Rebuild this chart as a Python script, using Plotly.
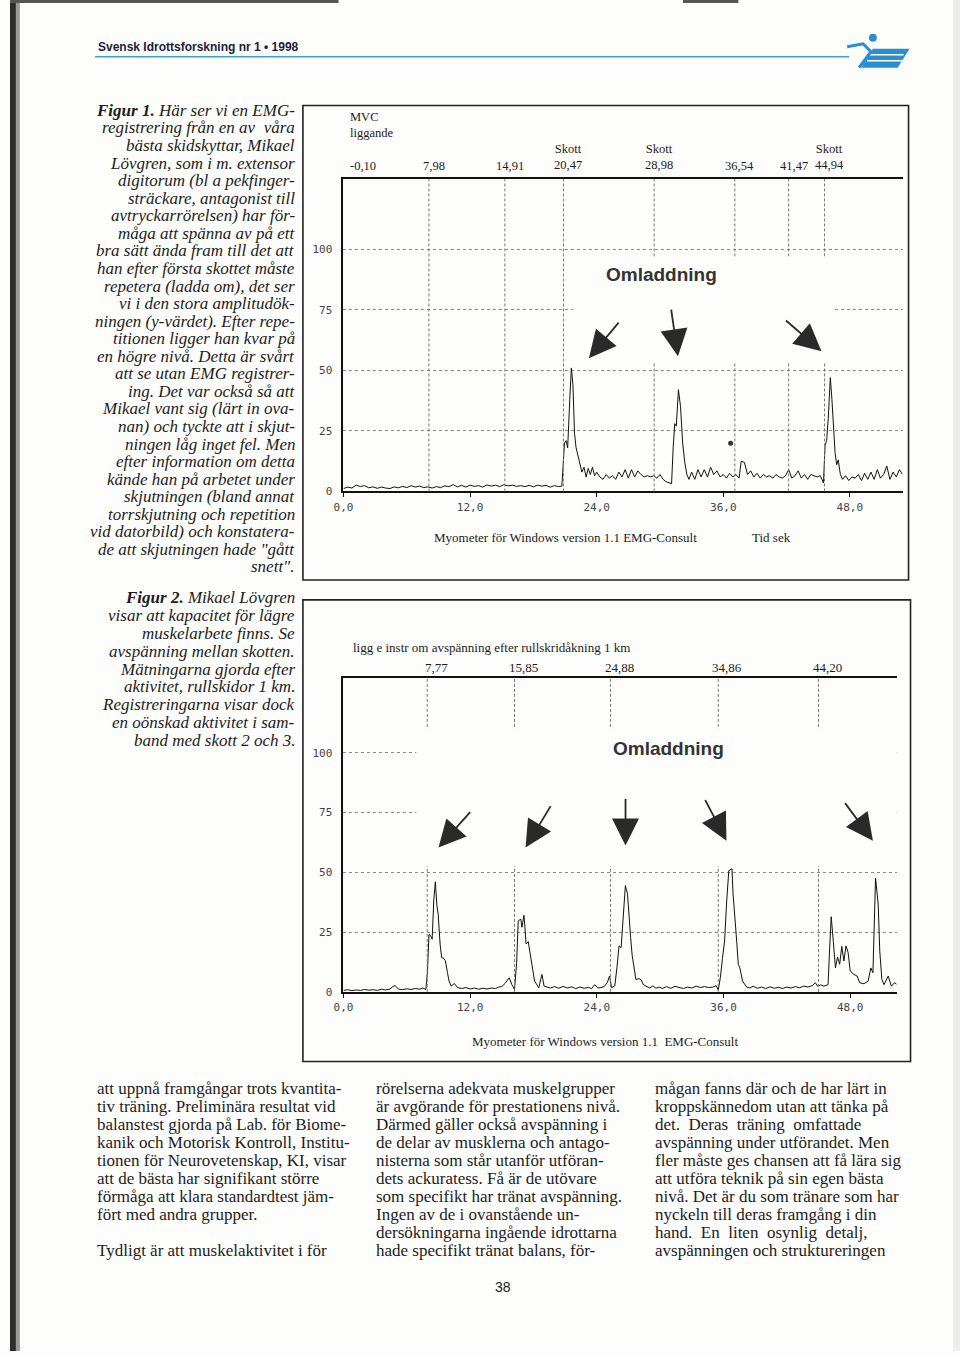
import plotly.graph_objects as go

W, H = 960, 1358

# ---------------- data ----------------
# Figure 1 EMG trace (time s, % MVC)
fig1_time = [0.0, 0.4, 0.8, 1.2, 1.6, 2.0, 2.4, 2.8, 3.2, 3.6, 4.0, 4.4, 4.8, 5.2, 5.6, 6.0, 6.4, 6.8,
             7.2, 7.6, 8.0, 8.4, 8.8, 9.2, 9.6, 10.0, 10.4, 10.8, 11.2, 11.6, 12.0, 12.4, 12.8, 13.2,
             13.6, 14.0, 14.4, 14.8, 15.2, 15.6, 16.0, 16.4, 16.8, 17.2, 17.6, 18.0, 18.4, 18.8, 19.2,
             19.6, 20.0, 20.4, 20.7,
             20.85, 20.95, 21.1, 21.25, 21.45, 21.6, 21.75, 21.9, 22.05, 22.2, 22.4, 22.6, 22.8, 23.0,
             23.2, 23.4, 23.6, 23.8, 24.0, 24.3, 24.6, 24.9, 25.2, 25.5, 25.8, 26.1, 26.4, 26.7, 27.0,
             27.3, 27.6, 27.9, 28.2, 28.5, 28.8, 29.1, 29.4, 29.7, 30.0, 30.3, 30.6, 30.9, 31.1,
             31.25, 31.4, 31.55, 31.75, 31.95, 32.15, 32.35, 32.55, 32.75, 33.0, 33.3, 33.6, 33.9,
             34.2, 34.5, 34.8, 35.1, 35.4, 35.7, 36.0, 36.3, 36.6, 36.9, 37.2, 37.5, 37.7, 38.0, 38.3,
             38.6, 38.9, 39.2, 39.5, 39.8, 40.1, 40.4, 40.7, 41.0, 41.3, 41.6, 41.9, 42.2, 42.5, 42.8,
             43.1, 43.4, 43.7, 44.0, 44.3, 44.6, 44.9, 45.2, 45.5,
             45.65, 45.8, 45.95, 46.15, 46.3, 46.45, 46.6, 46.75, 46.9, 47.1, 47.3, 47.6, 47.9, 48.2,
             48.5, 48.8, 49.1, 49.4, 49.7, 50.0, 50.3, 50.6, 50.9, 51.2, 51.5, 51.8, 52.1, 52.4, 52.7,
             53.0]
fig1_emg = [1.2, 1.8, 1.4, 2.6, 2.0, 2.4, 1.5, 1.9, 1.3, 1.8, 1.4, 1.2, 1.9, 1.5, 2.1, 1.6, 2.4, 1.8,
            2.2, 1.6, 1.9, 1.4, 2.0, 1.6, 2.3, 2.0, 2.8, 1.9, 2.5, 1.8, 2.6, 2.1, 2.4, 1.8,
            2.7, 2.2, 2.6, 2.0, 2.8, 2.3, 2.6, 2.1, 2.4, 2.0, 2.5, 1.9, 2.6, 2.2, 2.5,
            1.8, 2.4, 2.0, 2.2,
            14, 20, 21, 18, 38, 51, 44, 24, 18, 15, 12, 8, 10, 6,
            9.5, 7, 10, 6.5, 8, 6, 5, 7, 5.5, 6.5, 5, 8, 6, 9, 5.5,
            9, 6, 8.5, 7, 6, 6.5, 6, 6.5, 5.5, 7, 5, 4, 3.5, 3.2,
            18, 28, 27, 42, 35, 20, 12, 7, 5, 8, 5, 9, 6,
            9, 6, 10, 7, 8.5, 6, 7, 5.5, 7.5, 6, 7, 5.5, 12.5, 12, 7,
            8.5, 6, 7.5, 5.5, 7, 6, 6.5, 5.5, 7, 6, 5.5, 6.5, 9, 5.5, 6.5,
            8.5, 5.5, 7, 5, 7, 6.5, 6, 6.5, 3.5,
            19, 21, 30, 47, 38, 24, 16, 11, 13, 7, 5, 6.5, 4.5, 6,
            5.5, 7, 4.5, 7.5, 5, 8, 5, 9, 5.5, 7, 10.5, 5, 8, 6, 9,
            7]
fig1_marker_times = [8.1, 15.3, 20.85, 29.45, 37.1, 42.2, 45.6]
fig1_marker_labels = ["7,98", "14,91", "20,47", "28,98", "36,54", "41,47", "44,94"]
fig1_marker_notes = ["", "", "Skott", "Skott", "", "", "Skott"]
fig1_start_label = "-0,10"
fig1_spot = ([36.7], [19.9])

# Figure 2 EMG trace
fig2_time = [0.0, 0.4, 0.8, 1.2, 1.6, 2.0, 2.4, 2.8, 3.2, 3.6, 4.0, 4.4, 4.7, 4.9, 5.2, 5.6, 6.0, 6.4,
             6.8, 7.2, 7.5, 7.8,
             7.95, 8.1, 8.25, 8.4, 8.55, 8.7, 8.85, 8.97, 9.15, 9.3, 9.5, 9.65, 9.85, 10.0, 10.2,
             10.5, 10.8, 11.2, 11.6, 12.0, 12.4, 12.8, 13.2, 13.6, 14.0, 14.4, 14.7, 15.0, 15.3,
             15.7, 15.95, 16.2,
             16.4, 16.55, 16.8, 16.9, 17.1, 17.3, 17.5, 17.7, 17.9, 18.1, 18.5, 18.8, 19.0, 19.3,
             19.6, 20.0, 20.4, 20.8, 21.2, 21.6, 22.0, 22.4, 22.8, 23.2, 23.5, 23.8, 24.1, 24.4,
             24.7, 25.0, 25.2, 25.4, 25.7,
             25.9, 26.1, 26.3, 26.5, 26.7, 26.9, 27.05, 27.2, 27.35, 27.5, 27.7, 28.0, 28.2, 28.4,
             28.7, 29.0, 29.3, 29.6, 29.9, 30.2, 30.6, 31.0, 31.4, 31.8, 32.2, 32.6, 33.0, 33.4,
             33.8, 34.2, 34.6, 35.0, 35.3, 35.5,
             35.7, 35.9, 36.1, 36.3, 36.5, 36.8, 36.9, 37.2, 37.4, 37.55, 37.8, 38.2, 38.5, 38.8,
             39.2, 39.6, 40.0, 40.4, 40.8, 41.2, 41.6, 42.0, 42.4, 42.8, 43.2, 43.6, 44.0, 44.4,
             44.7, 44.9, 45.2, 45.5, 45.9,
             46.05, 46.2, 46.4, 46.6, 46.8, 47.0, 47.2, 47.4, 47.6, 47.8, 48.0, 48.35, 48.65, 48.9,
             49.3, 49.7, 49.95, 50.15, 50.4, 50.65, 50.8, 51.0, 51.2, 51.6, 51.9, 52.2, 52.4]
fig2_emg = [0.6, 0.9, 0.5, 0.8, 0.6, 1.0, 0.7, 0.9, 0.6, 1.1, 0.8, 1.2, 2.3, 2.6, 1.2, 0.9, 1.3, 1.0,
            1.4, 1.1, 1.6, 1.0,
            8, 24, 23.5, 22, 38, 46, 36, 32.5, 20, 14.3, 14, 13, 8, 4.5, 2.4,
            3.5, 1.8, 1.4, 1.8, 1.2, 1.6, 1.1, 1.5, 1.2, 1.6, 1.4, 2.0, 2.2, 3.5,
            5.9, 3.0, 1.0,
            12, 29.7, 30.4, 27, 32, 20, 21, 15.7, 9, 4.5, 1.7, 7.3, 2.4, 2.0,
            1.6, 2.2, 1.5, 2.3, 1.6, 2.1, 1.4, 2.0, 1.5, 1.9, 1.3, 3.0, 1.6, 1.8,
            2.2, 4.0, 6.6, 1.7, 2.5,
            10, 19.2, 18.5, 32, 44.4, 41, 30, 22.7, 15, 10, 5.2, 5.5, 5, 3,
            2.4, 1.6, 2.5, 1.5, 2.0, 1.4, 2.2, 1.5, 2.3, 1.8, 1.4, 2.0, 1.6, 2.4,
            1.8, 2.2, 1.8, 2.0, 2.6, 0.8,
            6, 14, 21.3, 38, 50.7, 51.4, 41, 24, 11.5, 10, 4.5, 2.0, 1.6, 2.4,
            1.5, 2.0, 1.4, 2.1, 1.5, 1.9, 1.4, 2.0, 1.6, 2.2, 1.7, 2.4, 2.0, 2.6,
            3.8, 2.4, 2.9, 2.4, 3.0,
            18, 31.4, 21, 10, 14.6, 11.5, 19, 12.9, 19.2, 16.4, 8.7, 7.3, 6.6, 3.8,
            3.4, 4.5, 10, 8, 47.6, 36.7, 17, 5.2, 3.0, 6.6, 2.4, 3.8, 3.2]
fig2_marker_times = [7.93, 16.2, 25.3, 35.5, 45.0]
fig2_marker_labels = ["7,77", "15,85", "24,88", "34,86", "44,20"]

x_tick_vals = [0, 12, 24, 36, 48]
x_tick_text = ["0,0", "12,0", "24,0", "36,0", "48,0"]
y_tick_vals = [0, 25, 50, 75, 100]
y_tick_text = ["0", "25", "50", "75", "100"]

header_text = "Svensk Idrottsforskning nr 1 • 1998"
page_number = "38"

caption1 = [
    "<b>Figur 1.</b> Här ser vi en EMG-",
    "registrering från en av  våra",
    "bästa skidskyttar, Mikael",
    "Lövgren, som i m. extensor",
    "digitorum (bl a pekfinger-",
    "sträckare, antagonist till",
    "avtryckarrörelsen) har för-",
    "måga att spänna av på ett",
    "bra sätt ända fram till det att",
    "han efter första skottet måste",
    "repetera (ladda om), det ser",
    "vi i den stora amplitudök-",
    "ningen (y-värdet). Efter repe-",
    "titionen ligger han kvar på",
    "en högre nivå. Detta är svårt",
    "att se utan EMG registrer-",
    "ing. Det var också så att",
    "Mikael vant sig (lärt in ova-",
    "nan) och tyckte att i skjut-",
    "ningen låg inget fel. Men",
    "efter information om detta",
    "kände han på arbetet under",
    "skjutningen (bland annat",
    "torrskjutning och repetition",
    "vid datorbild) och konstatera-",
    "de att skjutningen hade \"gått",
    "snett\".",
]
caption2 = [
    "<b>Figur 2.</b> Mikael Lövgren",
    "visar att kapacitet för lägre",
    "muskelarbete finns. Se",
    "avspänning mellan skotten.",
    "Mätningarna gjorda efter",
    "aktivitet, rullskidor 1 km.",
    "Registreringarna visar dock",
    "en oönskad aktivitet i sam-",
    "band med skott 2 och 3.",
]
body_col1 = [
    "att uppnå framgångar trots kvantita-",
    "tiv träning. Preliminära resultat vid",
    "balanstest gjorda på Lab. för Biome-",
    "kanik och Motorisk Kontroll, Institu-",
    "tionen för Neurovetenskap, KI, visar",
    "att de bästa har signifikant större",
    "förmåga att klara standardtest jäm-",
    "fört med andra grupper.",
    "",
    "Tydligt är att muskelaktivitet i för",
]
body_col2 = [
    "rörelserna adekvata muskelgrupper",
    "är avgörande för prestationens nivå.",
    "Därmed gäller också avspänning i",
    "de delar av musklerna och antago-",
    "nisterna som står utanför utföran-",
    "dets ackuratess. Få är de utövare",
    "som specifikt har tränat avspänning.",
    "Ingen av de i ovanstående un-",
    "dersökningarna ingående idrottarna",
    "hade specifikt tränat balans, för-",
]
body_col3 = [
    "mågan fanns där och de har lärt in",
    "kroppskännedom utan att tänka på",
    "det.  Deras  träning  omfattade",
    "avspänning under utförandet. Men",
    "fler måste ges chansen att få lära sig",
    "att utföra teknik på sin egen bästa",
    "nivå. Det är du som tränare som har",
    "nyckeln till deras framgång i din",
    "hand.  En  liten  osynlig  detalj,",
    "avspänningen och struktureringen",
]

# ---------------- helpers ----------------
def px(x):
    return x / W


def py(y):
    return 1 - y / H


SERIF = "Liberation Serif, Times New Roman, serif"
MONO = "DejaVu Sans Mono, monospace"
SANS = "Liberation Sans, Arial, sans-serif"
INK = "#1c1c1c"
PAPER = "#fdfdfb"


def text_at(text, x, y, size, family=SERIF, xanchor="center", color=INK, **kw):
    d = dict(text=text, x=x, y=y, xref=kw.pop("xref", "paper"), yref=kw.pop("yref", "paper"),
             xanchor=xanchor, yanchor="middle", showarrow=False,
             font=dict(family=family, size=size, color=color))
    d.update(kw)
    return d


fig = go.Figure()

fig.add_trace(go.Scatter(x=fig1_time, y=fig1_emg, mode="lines",
                         line=dict(color="#111111", width=1), xaxis="x", yaxis="y",
                         showlegend=False, hoverinfo="skip"))
fig.add_trace(go.Scatter(x=fig1_spot[0], y=fig1_spot[1], mode="markers",
                         marker=dict(color="#333333", size=5), xaxis="x", yaxis="y",
                         showlegend=False, hoverinfo="skip"))
fig.add_trace(go.Scatter(x=fig2_time, y=fig2_emg, mode="lines",
                         line=dict(color="#111111", width=1), xaxis="x2", yaxis="y2",
                         showlegend=False, hoverinfo="skip"))

axis_common_x = dict(showline=True, mirror=True, linecolor="#111111", linewidth=2,
                     ticks="outside", ticklen=4, tickcolor="#111111", tickwidth=1,
                     tickvals=x_tick_vals, ticktext=x_tick_text,
                     tickfont=dict(family=MONO, size=11, color="#444444"),
                     showgrid=False, zeroline=False, fixedrange=True)
axis_common_y = dict(showline=True, mirror=False, linecolor="#111111", linewidth=2,
                     ticks="outside", ticklen=7, tickcolor="rgba(0,0,0,0)",
                     tickvals=y_tick_vals, ticktext=y_tick_text,
                     tickfont=dict(family=MONO, size=11, color="#444444"),
                     showgrid=True, gridcolor="#8a8a8a", griddash="dot", gridwidth=1,
                     zeroline=False, fixedrange=True)

fig.update_layout(
    width=W, height=H, margin=dict(l=0, r=0, t=0, b=0),
    paper_bgcolor=PAPER, plot_bgcolor="rgba(0,0,0,0)",
    xaxis=dict(domain=[px(337), px(902)], range=[0, 53.0], anchor="y", **axis_common_x),
    yaxis=dict(domain=[py(494), py(180)], range=[0, 129], anchor="x", **axis_common_y),
    xaxis2=dict(domain=[px(337), px(896)], range=[0, 52.4], anchor="y2", **axis_common_x),
    yaxis2=dict(domain=[py(997), py(682)], range=[0, 131], anchor="x2", **axis_common_y),
)

shapes = []
ann = []

# page decorations (book gutter, page edge, header rule, logo)
shapes.append(dict(type="rect", xref="paper", yref="paper", x0=0, x1=px(6), y0=0, y1=1,
                   fillcolor="#2e2e2e", line=dict(width=0), layer="below"))
shapes.append(dict(type="rect", xref="paper", yref="paper", x0=px(6), x1=px(10), y0=0, y1=1,
                   fillcolor="#9a9a9a", line=dict(width=0), layer="below"))
shapes.append(dict(type="rect", xref="paper", yref="paper", x0=px(953), x1=1, y0=0, y1=1,
                   fillcolor="#ececec", line=dict(width=0), layer="below"))
for x0, x1 in ((0, 330), (306, 332), (680, 736)):
    shapes.append(dict(type="rect", xref="paper", yref="paper", x0=px(x0), x1=px(x1), y0=py(3), y1=1,
                       fillcolor="#555555", line=dict(width=0), layer="below"))
shapes.append(dict(type="line", xref="paper", yref="paper", x0=px(86), x1=px(848), y0=py(57), y1=py(57),
                   line=dict(color="#3aa3cc", width=1.6)))
shapes.append(dict(type="path", xref="paper", yref="paper",
                   path=f"M {px(872)},{py(49)} L {px(909)},{py(49)} L {px(897)},{py(68)} L {px(860)},{py(68)} Z",
                   fillcolor="#2a8fd0", line=dict(width=0)))
for yy in (55, 61):
    shapes.append(dict(type="line", xref="paper", yref="paper", x0=px(866), x1=px(903), y0=py(yy), y1=py(yy),
                       line=dict(color="white", width=1.5)))
shapes.append(dict(type="circle", xref="paper", yref="paper", x0=px(868), x1=px(876), y0=py(42), y1=py(34),
                   fillcolor="#2a8fd0", line=dict(width=0)))
shapes.append(dict(type="path", xref="paper", yref="paper",
                   path=f"M {px(846)},{py(47)} L {px(862)},{py(44)} L {px(870)},{py(52)} L {px(858)},{py(68)}",
                   line=dict(color="#2a8fd0", width=3)))

# chart frames
shapes.append(dict(type="rect", xref="paper", yref="paper", x0=px(296), x1=px(908), y0=py(583), y1=py(106),
                   line=dict(color="#222222", width=1.6)))
shapes.append(dict(type="rect", xref="paper", yref="paper", x0=px(296), x1=px(910), y0=py(1067), y1=py(603),
                   line=dict(color="#222222", width=1.6)))

# marker lines (shots)
for t in fig1_marker_times:
    shapes.append(dict(type="line", xref="x", yref="y domain", x0=t, x1=t, y0=0, y1=1,
                       line=dict(color="#777777", width=1, dash="3px,2px"), layer="above"))
for t in fig2_marker_times:
    shapes.append(dict(type="line", xref="x2", yref="y2 domain", x0=t, x1=t, y0=0, y1=1,
                       line=dict(color="#777777", width=1, dash="3px,2px"), layer="above"))

# pasted-on label areas (white)
shapes.append(dict(type="rect", xref="x", yref="y", x0=21.8, x1=46.6, y0=53, y1=97,
                   fillcolor=PAPER, line=dict(width=0), layer="above"))
shapes.append(dict(type="rect", xref="x2", yref="y2", x0=6.9, x1=53, y0=52.5, y1=110,
                   fillcolor=PAPER, line=dict(width=0), layer="above"))

# ---- chart 1 texts ----
ann.append(text_at("MVC<br>liggande", px(342), py(126), 12.5, xanchor="left", align="left"))
ann.append(text_at(fig1_start_label, 0, py(167), 12.5, xanchor="left", xref="x", xshift=5))
for t, lab, note in zip(fig1_marker_times, fig1_marker_labels, fig1_marker_notes):
    if note:
        ann.append(dict(text=note + "<br>" + lab, x=t, y=py(175), xref="x", yref="paper", xshift=5,
                        xanchor="center", yanchor="bottom", showarrow=False,
                        font=dict(family=SERIF, size=12.5, color=INK)))
    else:
        ann.append(text_at(lab, t, py(167), 12.5, xref="x", xshift=5))
ann.append(text_at("<b>Omladdning</b>", px(658), py(276), 19, family=SANS, color="#333333"))
ann.append(text_at("Myometer för Windows version 1.1 EMG-Consult", px(561), py(540), 13))
ann.append(text_at("Tid sek", px(770), py(540), 13))

arrows1 = [((585, 360), (616, 323)), ((675, 358), (668, 310)), ((820, 353), (783, 321))]
arrows2 = [((433, 852), (466, 815)), ((521, 852), (547, 809)), ((622, 850), (622, 802)),
           ((724, 845), (702, 803)), ((872, 845), (843, 806))]
for (tip, tail) in arrows1 + arrows2:
    ann.append(dict(text="", x=px(tip[0]), y=py(tip[1]), xref="paper", yref="paper",
                    ax=tail[0] - tip[0], ay=tail[1] - tip[1], axref="pixel", ayref="pixel",
                    showarrow=True, arrowhead=2, arrowsize=3.0, arrowwidth=1.8,
                    arrowcolor="#2a2a2a", standoff=0))

# ---- chart 2 texts ----
ann.append(text_at("ligg e instr om avspänning efter rullskridåkning 1 km", px(345), py(651), 13,
                   xanchor="left"))
for t, lab in zip(fig2_marker_times, fig2_marker_labels):
    ann.append(text_at(lab, t, py(671), 13, xref="x2", xshift=9))
ann.append(text_at("<b>Omladdning</b>", px(665), py(752), 19, family=SANS, color="#333333"))
ann.append(text_at("Myometer för Windows version 1.1  EMG-Consult", px(601), py(1047), 13))

# ---- page texts ----
ann.append(text_at("<b>" + header_text + "</b>", px(87), py(47), 12, xanchor="left",
                   family="Liberation Sans Narrow, Arial Narrow, " + SANS, color="#1c1c3c"))
for i, line in enumerate(caption1):
    ann.append(text_at("<i>" + line + "</i>", px(290), py(111 + i * 17.65), 17, xanchor="right"))
for i, line in enumerate(caption2):
    ann.append(text_at("<i>" + line + "</i>", px(290), py(601 + i * 17.9), 17, xanchor="right"))
for col_x, col in ((86, body_col1), (368, body_col2), (650, body_col3)):
    for i, line in enumerate(col):
        if not line:
            continue
        ann.append(text_at(line, px(col_x), py(1094 + i * 18.1), 17, xanchor="left"))
ann.append(text_at(page_number, px(498), py(1294), 14, family=SANS))

fig.update_layout(shapes=shapes, annotations=ann)
fig.write_html("out.html", config={"displayModeBar": False},
               post_script="document.body.style.margin='0';document.body.style.overflow='hidden';")
